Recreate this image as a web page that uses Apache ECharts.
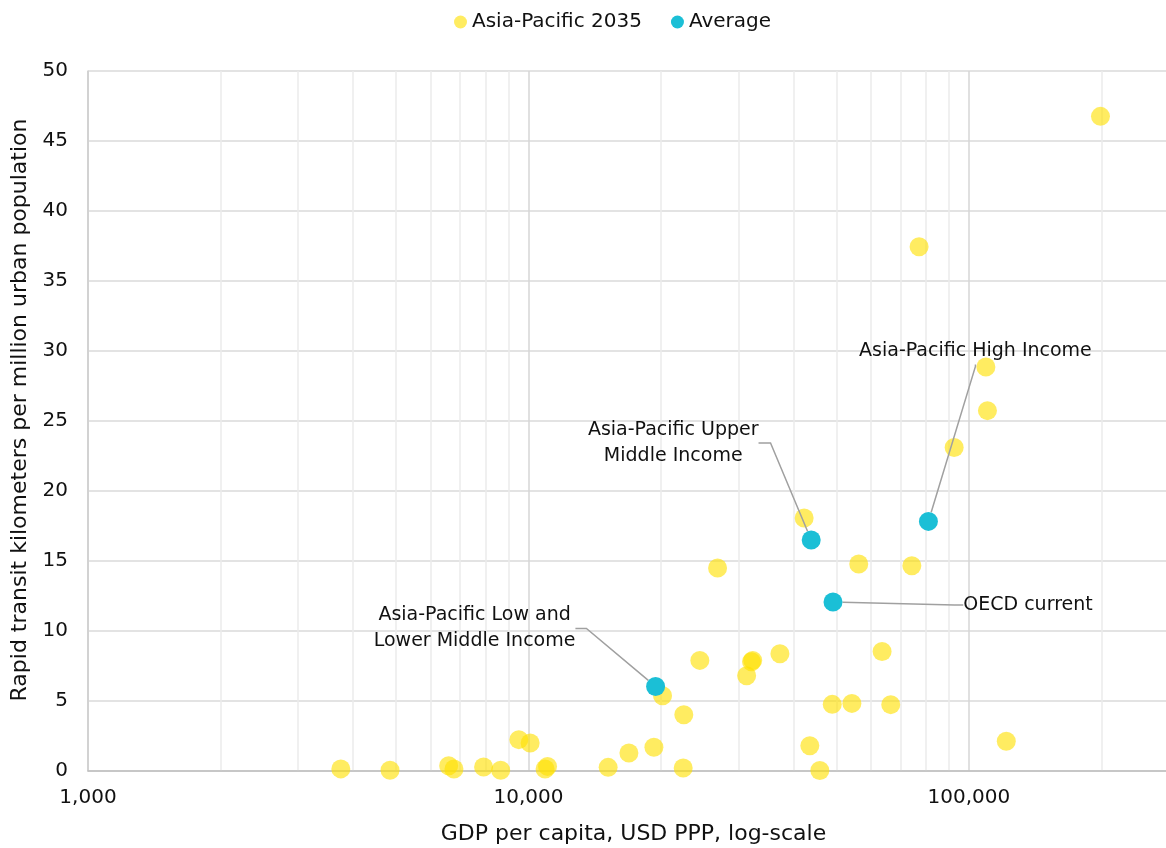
<!DOCTYPE html>
<html>
<head>
<meta charset="utf-8">
<script src="https://cdn.jsdelivr.net/npm/echarts@6/dist/echarts.min.js"></script>
<style>
html,body{margin:0;padding:0;background:#fff;}
#chart{width:1166px;height:848px;}
</style>
</head>
<body>
<div id="chart"></div>
<script>
// ---- Data ----
const seriesNames = ['Asia-Pacific 2035', 'Average'];
// Asia-Pacific 2035: GDP per capita (USD PPP) and rapid transit km per million urban pop
const apGdp = [3750, 4850, 6590, 6775, 7910, 8650, 9510, 10090, 10910, 11050,
  15170, 16910, 19270, 22460, 22530, 20160, 24500, 31290, 32100, 32300,
  37240, 43540, 45880, 48960, 54250, 66470, 63530, 26880, 42270, 56230,
  74220, 121600, 199000, 77090, 109300, 110200, 92600];
const apRtk = [0.15, 0.05, 0.38, 0.14, 0.29, 0.05, 2.24, 2.0, 0.14, 0.33,
  0.26, 1.29, 1.69, 0.21, 4.02, 5.38, 7.9, 6.81, 7.8, 7.9,
  8.38, 1.81, 0.04, 4.76, 4.83, 4.74, 8.54, 14.5, 18.07, 14.79,
  14.66, 2.12, 46.76, 37.45, 28.86, 25.74, 23.11];
// Averages
const avgNames = ['Asia-Pacific Low and\nLower Middle Income', 'Asia-Pacific Upper\nMiddle Income', 'OECD current', 'Asia-Pacific High Income'];
const avgGdp = [19440, 43860, 49150, 80950];
const avgRtk = [6.04, 16.5, 12.07, 17.83];
// Axis ticks
const xMajorTicks = [1000, 10000, 100000];
const xMinorTicks = [2000, 3000, 4000, 5000, 6000, 7000, 8000, 9000,
  20000, 30000, 40000, 50000, 60000, 70000, 80000, 90000, 200000];
const yTicks = [0, 5, 10, 15, 20, 25, 30, 35, 40, 45, 50];

// ---- Layout for annotation labels (pixel offsets from point, leader length) ----
const labelOffsets = [[-181, -58], [-138, -97], [195, 3], [47, -170]];
const leaderLen = [11, 12, 9, 2];

const FONT = 'DejaVu Sans';
const chart = echarts.init(document.getElementById('chart'));

const option = {
  animation: false,
  textStyle: { fontFamily: FONT },
  legend: {
    top: 7,
    left: 449,
    icon: 'circle',
    itemWidth: 13,
    itemHeight: 13,
    itemGap: 29,
    textStyle: { fontSize: 20, color: '#111', fontFamily: FONT },
    data: seriesNames
  },
  grid: { left: 88, right: -13, top: 71, bottom: 77, containLabel: false, outerBoundsMode: 'none' },
  xAxis: {
    type: 'log',
    logBase: 10,
    min: xMajorTicks[0],
    max: 300000,
    name: 'GDP per capita, USD PPP, log-scale',
    nameLocation: 'middle',
    nameGap: 52,
    nameTextStyle: { fontSize: 22, color: '#111', fontFamily: FONT },
    axisLine: { show: true, lineStyle: { color: '#bfbfbf', width: 1.5 } },
    axisTick: { show: false },
    axisLabel: {
      fontSize: 20, color: '#111', margin: 17, fontFamily: FONT,
      formatter: function (v) {
        return xMajorTicks.indexOf(Math.round(v)) >= 0 ? Math.round(v).toLocaleString('en-US') : '';
      }
    },
    splitLine: { show: true, lineStyle: { color: '#d6d6d6', width: 1.5 } }
  },
  yAxis: {
    type: 'value',
    min: yTicks[0],
    max: yTicks[yTicks.length - 1],
    interval: 5,
    name: 'Rapid transit kilometers per million urban population',
    nameLocation: 'middle',
    nameGap: 57,
    nameTextStyle: { fontSize: 22, color: '#111', fontFamily: FONT, padding: [0, 0, 0, 22] },
    axisLine: { show: true, lineStyle: { color: '#d0d0d0', width: 1.5 } },
    axisTick: { show: false },
    axisLabel: { fontSize: 20, color: '#111', margin: 20, fontFamily: FONT },
    splitLine: { show: true, lineStyle: { color: '#dadada', width: 1.5 } }
  },
  series: [
    {
      name: seriesNames[0],
      type: 'scatter',
      symbol: 'circle',
      symbolSize: 19,
      itemStyle: { color: '#FFE000', opacity: 0.62 },
      z: 2,
      data: apGdp.map((g, i) => [g, apRtk[i]]),
      markLine: {
        silent: true,
        symbol: 'none',
        z: 0,
        label: { show: false },
        lineStyle: { color: '#ebebeb', type: 'solid', width: 1.5 },
        data: xMinorTicks.map(v => ({ xAxis: v }))
      }
    },
    {
      name: seriesNames[1],
      type: 'scatter',
      symbol: 'circle',
      symbolSize: 19,
      itemStyle: { color: '#1BBFD6', opacity: 1 },
      z: 3,
      data: avgGdp.map((g, i) => ({
        value: [g, avgRtk[i]],
        name: avgNames[i],
        labelLine: { show: true, length2: leaderLen[i], lineStyle: { color: '#a0a0a0', width: 1.5 } }
      })),
      label: {
        show: true,
        formatter: p => p.name,
        fontSize: 19,
        lineHeight: 26,
        color: '#111',
        align: 'center',
        fontFamily: FONT
      },
      labelLine: { show: true, lineStyle: { color: '#a0a0a0', width: 1.5 } },
      labelLayout: function (params) {
        const o = labelOffsets[params.dataIndex];
        const r = params.rect;
        return {
          x: r.x + r.width / 2 + o[0],
          y: r.y + r.height / 2 + o[1],
          align: 'center',
          verticalAlign: 'middle'
        };
      }
    }
  ]
};
chart.setOption(option);
</script>
</body>
</html>
